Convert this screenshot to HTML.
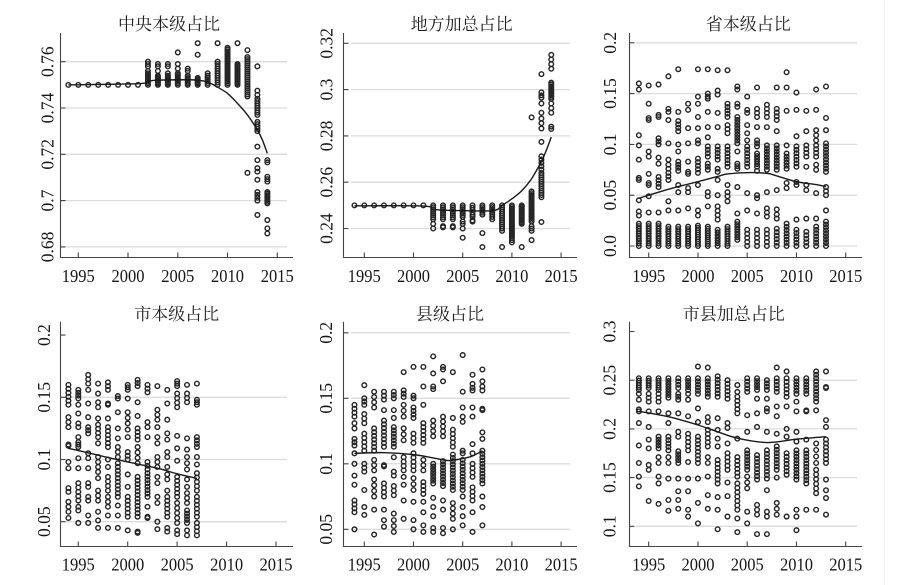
<!DOCTYPE html>
<html><head><meta charset="utf-8"><style>
html,body{margin:0;padding:0;background:#fff;}
svg{display:block;}
.n{font-family:"Liberation Serif","Noto Serif CJK SC",serif;font-size:17.5px;fill:#161616;}
.ttl{font-family:"Liberation Serif","Noto Serif CJK SC","Noto Serif CJK","Noto Serif CJK JP","Noto Sans CJK SC",serif;font-size:17px;fill:#1e1e1e;}
</style></head><body>
<svg id="s" width="908" height="585" viewBox="0 0 908 585" xmlns="http://www.w3.org/2000/svg">
<rect width="908" height="585" fill="#fff"/>
<line x1="884.5" y1="0" x2="884.5" y2="585" stroke="#f0f0f0" stroke-width="1"/>
<!-- grids -->
<g stroke="#dcdcdc" stroke-width="1.3">
<path d="M63 61.7H287M63 108H287M63 154.3H287M63 200.6H287M63 246.9H287"/>
<path d="M351 43.3H570M351 89.6H570M351 135.9H570M351 182.2H570M351 228.5H570"/>
<path d="M636 42.8H857M636 93.6H857M636 144.4H857M636 195.2H857M636 246H857"/>
<path d="M63 397.3H287M63 459.5H287M63 521.7H287"/>
<path d="M351 332.8H570M351 398.3H570M351 463.8H570M351 529.3H570"/>
<path d="M636 380.2H857M636 428.9H857M636 477.6H857M636 526.3H857"/>
</g>
<!-- axes -->
<g stroke="#444" stroke-width="1.1" fill="none">
<path d="M60.5 33V257.5H293"/>
<path d="M60.5 61.7h5M60.5 108h5M60.5 154.3h5M60.5 200.6h5M60.5 246.9h5"/>
<path d="M78.3 257.5v-5M128 257.5v-5M177.8 257.5v-5M227.5 257.5v-5M277.3 257.5v-5"/>
<path d="M343.5 33V257.5H577"/>
<path d="M343.5 43.3h5M343.5 89.6h5M343.5 135.9h5M343.5 182.2h5M343.5 228.5h5"/>
<path d="M364.3 257.5v-5M413.5 257.5v-5M462.7 257.5v-5M511.9 257.5v-5M561.1 257.5v-5"/>
<path d="M629.5 33V257.5H862"/>
<path d="M629.5 42.8h5M629.5 93.6h5M629.5 144.4h5M629.5 195.2h5M629.5 246h5"/>
<path d="M648.7 257.5v-5M698 257.5v-5M747.2 257.5v-5M796.5 257.5v-5M845.7 257.5v-5"/>
<path d="M60.5 321.7V546.5H293"/>
<path d="M60.5 335.1h5M60.5 397.3h5M60.5 459.5h5M60.5 521.7h5"/>
<path d="M78.3 546.5v-5M127.7 546.5v-5M177.1 546.5v-5M226.6 546.5v-5M276 546.5v-5"/>
<path d="M343.5 321.7V546.5H577"/>
<path d="M343.5 332.8h5M343.5 398.3h5M343.5 463.8h5M343.5 529.3h5"/>
<path d="M364.3 546.5v-5M413.5 546.5v-5M462.7 546.5v-5M511.9 546.5v-5M561.1 546.5v-5"/>
<path d="M629.5 321.7V546.5H862"/>
<path d="M629.5 331.5h5M629.5 380.2h5M629.5 428.9h5M629.5 477.6h5M629.5 526.3h5"/>
<path d="M648.7 546.5v-5M698 546.5v-5M747.2 546.5v-5M796.5 546.5v-5M845.7 546.5v-5"/>
</g>
<!-- titles -->
<text class="ttl" x="169" y="29.8" text-anchor="middle">中央本级占比</text>
<text class="ttl" x="461.7" y="29.8" text-anchor="middle">地方加总占比</text>
<text class="ttl" x="748.3" y="29.8" text-anchor="middle">省本级占比</text>
<text class="ttl" x="176.7" y="319.8" text-anchor="middle">市本级占比</text>
<text class="ttl" x="450" y="319.8" text-anchor="middle">县级占比</text>
<text class="ttl" x="733.8" y="319.8" text-anchor="middle">市县加总占比</text>
<!-- y labels -->
<g class="n" text-anchor="middle">
<text transform="translate(53.3,61.7) rotate(-90)">0.76</text>
<text transform="translate(53.3,108) rotate(-90)">0.74</text>
<text transform="translate(53.3,154.3) rotate(-90)">0.72</text>
<text transform="translate(53.3,200.6) rotate(-90)">0.7</text>
<text transform="translate(53.3,246.9) rotate(-90)">0.68</text>
<text transform="translate(332.5,43.3) rotate(-90)">0.32</text>
<text transform="translate(332.5,89.6) rotate(-90)">0.3</text>
<text transform="translate(332.5,135.9) rotate(-90)">0.28</text>
<text transform="translate(332.5,182.2) rotate(-90)">0.26</text>
<text transform="translate(332.5,228.5) rotate(-90)">0.24</text>
<text transform="translate(615.8,42.8) rotate(-90)">0.2</text>
<text transform="translate(615.8,93.6) rotate(-90)">0.15</text>
<text transform="translate(615.8,144.4) rotate(-90)">0.1</text>
<text transform="translate(615.8,195.2) rotate(-90)">0.05</text>
<text transform="translate(615.8,246) rotate(-90)">0.0</text>
<text transform="translate(49.8,335.1) rotate(-90)">0.2</text>
<text transform="translate(49.8,397.3) rotate(-90)">0.15</text>
<text transform="translate(49.8,459.5) rotate(-90)">0.1</text>
<text transform="translate(49.8,521.7) rotate(-90)">0.05</text>
<text transform="translate(331.8,332.8) rotate(-90)">0.2</text>
<text transform="translate(331.8,398.3) rotate(-90)">0.15</text>
<text transform="translate(331.8,463.8) rotate(-90)">0.1</text>
<text transform="translate(331.8,529.3) rotate(-90)">0.05</text>
<text transform="translate(615.5,331.5) rotate(-90)">0.3</text>
<text transform="translate(615.5,380.2) rotate(-90)">0.25</text>
<text transform="translate(615.5,428.9) rotate(-90)">0.2</text>
<text transform="translate(615.5,477.6) rotate(-90)">0.15</text>
<text transform="translate(615.5,526.3) rotate(-90)">0.1</text>
</g>
<!-- x labels -->
<g class="n" text-anchor="middle">
<text x="78.3" y="282" textLength="33" lengthAdjust="spacingAndGlyphs">1995</text>
<text x="128" y="282" textLength="33" lengthAdjust="spacingAndGlyphs">2000</text>
<text x="177.8" y="282" textLength="33" lengthAdjust="spacingAndGlyphs">2005</text>
<text x="227.5" y="282" textLength="33" lengthAdjust="spacingAndGlyphs">2010</text>
<text x="277.3" y="282" textLength="33" lengthAdjust="spacingAndGlyphs">2015</text>
<text x="364.3" y="282" textLength="33" lengthAdjust="spacingAndGlyphs">1995</text>
<text x="413.5" y="282" textLength="33" lengthAdjust="spacingAndGlyphs">2000</text>
<text x="462.7" y="282" textLength="33" lengthAdjust="spacingAndGlyphs">2005</text>
<text x="511.9" y="282" textLength="33" lengthAdjust="spacingAndGlyphs">2010</text>
<text x="561.1" y="282" textLength="33" lengthAdjust="spacingAndGlyphs">2015</text>
<text x="648.7" y="282" textLength="33" lengthAdjust="spacingAndGlyphs">1995</text>
<text x="698" y="282" textLength="33" lengthAdjust="spacingAndGlyphs">2000</text>
<text x="747.2" y="282" textLength="33" lengthAdjust="spacingAndGlyphs">2005</text>
<text x="796.5" y="282" textLength="33" lengthAdjust="spacingAndGlyphs">2010</text>
<text x="845.7" y="282" textLength="33" lengthAdjust="spacingAndGlyphs">2015</text>
<text x="78.3" y="570.7" textLength="33" lengthAdjust="spacingAndGlyphs">1995</text>
<text x="127.7" y="570.7" textLength="33" lengthAdjust="spacingAndGlyphs">2000</text>
<text x="177.1" y="570.7" textLength="33" lengthAdjust="spacingAndGlyphs">2005</text>
<text x="226.6" y="570.7" textLength="33" lengthAdjust="spacingAndGlyphs">2010</text>
<text x="276" y="570.7" textLength="33" lengthAdjust="spacingAndGlyphs">2015</text>
<text x="364.3" y="570.7" textLength="33" lengthAdjust="spacingAndGlyphs">1995</text>
<text x="413.5" y="570.7" textLength="33" lengthAdjust="spacingAndGlyphs">2000</text>
<text x="462.7" y="570.7" textLength="33" lengthAdjust="spacingAndGlyphs">2005</text>
<text x="511.9" y="570.7" textLength="33" lengthAdjust="spacingAndGlyphs">2010</text>
<text x="561.1" y="570.7" textLength="33" lengthAdjust="spacingAndGlyphs">2015</text>
<text x="648.7" y="570.7" textLength="33" lengthAdjust="spacingAndGlyphs">1995</text>
<text x="698" y="570.7" textLength="33" lengthAdjust="spacingAndGlyphs">2000</text>
<text x="747.2" y="570.7" textLength="33" lengthAdjust="spacingAndGlyphs">2005</text>
<text x="796.5" y="570.7" textLength="33" lengthAdjust="spacingAndGlyphs">2010</text>
<text x="845.7" y="570.7" textLength="33" lengthAdjust="spacingAndGlyphs">2015</text>
</g>
<g id="pts"></g>
</svg>
<script>
(function(){
const NS="http://www.w3.org/2000/svg";
const host=document.getElementById('pts');
const D=(lo,hi,n)=>{const a=[];for(let i=0;i<n;i++)a.push(n==1?lo:lo+(hi-lo)*i/(n-1));return a;};
function crPath(P){let d="M"+P[0][0].toFixed(2)+","+P[0][1].toFixed(2);
 for(let i=0;i<P.length-1;i++){const p0=P[i-1]||P[i],p1=P[i],p2=P[i+1],p3=P[i+2]||P[i+1];
  const a=p1[0]+(p2[0]-p0[0])/6,b=p1[1]+(p2[1]-p0[1])/6,c=p2[0]-(p3[0]-p1[0])/6,e=p2[1]-(p3[1]-p1[1])/6;
  d+=" C"+a.toFixed(2)+","+b.toFixed(2)+" "+c.toFixed(2)+","+e.toFixed(2)+" "+p2[0].toFixed(2)+","+p2[1].toFixed(2);}
 return d;}
function panel(xf,yf,cols,line){
 const g=document.createElementNS(NS,'g');
 g.setAttribute('fill','none');g.setAttribute('stroke','#262626');g.setAttribute('stroke-width','1.45');
 for(const k in cols){const yr=+k;const vals=cols[k].flat();
  for(const v of vals){const c=document.createElementNS(NS,'circle');
   c.setAttribute('cx',xf(yr).toFixed(2));c.setAttribute('cy',yf(v).toFixed(2));c.setAttribute('r','2.3');g.appendChild(c);}}
 host.appendChild(g);
 const p=document.createElementNS(NS,'path');
 p.setAttribute('d',crPath(line.map(q=>[xf(q[0]),yf(q[1])])));
 p.setAttribute('fill','none');p.setAttribute('stroke','#1a1a1a');p.setAttribute('stroke-width','1.4');
 host.appendChild(p);
}
// Panel 1
const c1={};for(let y=1994;y<=2001;y++)c1[y]=[.75];
Object.assign(c1,{
2002:[D(.750,.755,8),.756,.758,.759,.760],
2003:[D(.750,.754,8),.756,.758,.759],
2004:[D(.750,.754,8),.755,.758,.759],
2005:[D(.750,.755,8),.757,.759,.764],
2006:[D(.750,.754,7),.756,.757],
2007:[D(.750,.753,6),.763,.768],
2008:[D(.750,.754,6),.755],
2009:[.750,D(.751,.760,10),.768],
2010:[D(.750,.766,22)],
2011:[D(.750,.759,16),.768],
2012:[D(.745,.762,20),.765,.712],
2013:[.758,.7475,.7456,D(.737,.744,8),D(.730,.734,5),.7233,.7175,.714,.7125,.709,D(.700,.7037,4),.6938],
2014:[.7175,.7165,D(.7082,.7103,3),D(.6988,.7037,8),.6916,.688,.6858]});
panel(y=>78.3+(y-1995)*9.95,v=>61.7+(0.76-v)*2315,c1,
[[1994,.75],[2001,.7505],[2002,.7515],[2003,.752],[2006,.7522],[2007,.752],[2008,.7512],[2009,.749],[2010,.7463],[2011,.742],[2012,.737],[2013,.7305],[2013.5,.7262],[2014,.7204]]);
// Panel 2
const c2={};for(let y=1994;y<=2001;y++)c2[y]=[.25];
Object.assign(c2,{
2002:[D(.244,.25,8),.242,.240],
2003:[D(.244,.25,8),.241,.2405],
2004:[D(.244,.25,8),.241,.2405],
2005:[D(.245,.25,7),.243,.242,.240,.236],
2006:[D(.245,.25,6),.2435,.243],
2007:[D(.246,.25,6),.238,.232],
2008:[D(.246,.25,6),.245,.244],
2009:[D(.240,.25,12),.239,.232],
2010:[D(.236,.25,20),.235,.234],
2011:[D(.242,.25,14),.232],
2012:[D(.243,.256,18),.241,.240,.239,.235,.288],
2013:[.3067,.2988,.2975,.2965,.294,.290,.2875,.2855,.2832,.2774,D(.2655,.2712,5),D(.2535,.264,12),.2428],
2014:[.315,.313,.311,.309,D(.296,.303,10),.294,.292,.290,.284,.283]});
panel(y=>364.3+(y-1995)*9.84,v=>43.3+(0.32-v)*2315,c2,
[[1994,.2498],[2001,.2497],[2002,.2483],[2004,.2478],[2008,.2477],[2009,.2500],[2010,.2528],[2011,.2563],[2012,.2615],[2013,.2690],[2013.5,.2738],[2014,.2795]]);
// Panel 3
const c3={
1994:[.160,.154,.109,.099,.085,.067,.065,.045,.034,.030,D(0,.022,10)],
1995:[.158,.140,.126,.124,.093,.088,.071,.062,.060,.049,.033,D(0,.022,10)],
1996:[.159,.129,.127,.106,.103,.100,.087,.081,D(.058,.068,4),.033,D(0,.022,10)],
1997:[.167,.135,.132,.124,.101,.085,.080,.076,D(.065,.072,3),.044,.035,D(0,.019,9)],
1998:[.174,.132,D(.113,.123,4),.100,.093,D(.074,.083,4),.060,.053,.035,D(0,.019,9)],
1999:[.140,.134,.116,.101,.083,.073,.071,.057,.053,.037,D(0,.019,9)],
2000:[.174,.147,.140,.127,.116,.104,.101,D(.072,.086,5),.060,.035,.030,D(0,.02,10)],
2001:[.174,.150,.147,.145,.132,.117,.107,D(.088,.098,4),D(.075,.081,3),.053,.049,.039,D(0,.019,10)],
2002:[.173,.153,.149,.131,.117,D(.085,.098,5),.076,.073,.065,.050,D(.026,.039,4),D(0,.016,7)],
2003:[.173,D(.127,.140,5),D(.111,.119,3),D(.078,.098,7),.060,.053,.049,.044,D(0,.019,9)],
2004:[.157,.154,.140,.137,D(.101,.127,10),.093,D(.076,.081,3),.058,.032,D(.006,.024,8)],
2005:[.147,.134,.131,.119,.111,.104,D(.078,.098,7),.052,.035,D(0,.016,5)],
2006:[.156,.135,.131,.127,.117,D(.098,.104,3),D(.078,.091,6),.074,.050,.047,.032,D(0,.016,5)],
2007:[.139,.135,.131,.127,.117,D(.075,.099,9),.053,.037,.033,.029,D(0,.016,5)],
2008:[.156,D(.124,.135,4),.113,D(.075,.099,9),.055,.036,.031,.027,D(0,.017,6)],
2009:[.171,.156,.133,.099,D(.076,.091,6),.062,.057,D(0,.022,8)],
2010:[.151,.134,.108,D(.078,.098,7),.063,.060,.026,D(0,.016,6)],
2011:[.133,.113,D(.088,.099,4),.078,.060,.055,.027,D(0,.014,5)],
2012:[.154,.134,D(.104,.114,3),D(.088,.099,4),.080,.075,.052,.027,D(0,.019,7)],
2013:[.157,.126,.114,D(.073,.101,10),D(.050,.058,3),.035,D(0,.024,9)]};
panel(y=>648.7+(y-1995)*9.85,v=>246-v*1016,c3,
[[1994,.047],[1996,.053],[1998,.0585],[2000,.0633],[2002,.0685],[2003,.0709],[2005,.0722],[2007,.0715],[2008,.069],[2010,.0633],[2012,.0605],[2013,.0584]]);
// Panel 4
const c4={
1994:[D(.144,.160,6),.134,.130,.126,.112,.111,.098,.093,.077,.074,.066,.062,.058,.053],
1995:[D(.149,.156,4),.144,.137,.129,.126,.118,.114,.112,.110,.101,.093,D(.067,.081,5),.062,.059,.049],
1996:[D(.161,.168,3),.156,.145,.134,D(.121,.126,3),.105,.101,.093,.081,.078,.070,.067,.055,.049],
1997:[.161,.153,.146,.142,.133,D(.118,.128,4),.113,D(.090,.102,4),.085,D(.067,.075,3),.058,.051,.045],
1998:[D(.156,.162,3),.145,.144,.133,D(.110,.126,6),.100,.094,D(.075,.086,4),D(.062,.070,3),.055,.045],
1999:[.151,.149,.138,.125,.117,D(.102,.110,3),D(.070,.097,10),.063,.055,.045],
2000:[D(.156,.160,3),.149,D(.129,.138,3),.124,.118,D(.100,.106,3),.088,.078,D(.054,.070,6),.043],
2001:[D(.159,.164,3),.146,.135,D(.116,.125,4),D(.097,.110,4),D(.054,.086,12),.042,.041],
2002:[D(.154,.160,3),.130,.126,.118,D(.092,.098,3),D(.070,.089,8),.062,.054,.053],
2003:[.159,D(.132,.140,3),.126,.118,.113,D(.094,.102,3),.086,.081,.070,.065,.050,.044],
2004:[.156,.145,.132,.121,.116,.106,.102,.094,.088,.084,.075,D(.054,.070,6),.045,.042],
2005:[D(.159,.163,3),D(.142,.153,4),.119,.109,.099,D(.070,.086,6),D(.049,.065,5),.043,.040],
2006:[.160,D(.146,.153,3),.117,.108,.102,.097,.092,.084,.078,D(.065,.073,3),D(.049,.059,5),.043,.039],
2007:[.161,.148,.146,.144,D(.110,.118,4),.102,.096,D(.075,.089,5),D(.054,.070,6),D(.039,.049,4)]};
panel(y=>78.3+(y-1995)*9.885,v=>521.7-(v-0.05)*1244,c4,
[[1994,.109],[1997,.1035],[2000,.098],[2003,.093],[2005,.0885],[2007,.0848]]);
// Panel 5
const c5={
1994:[D(.136,.145,4),.131,.127,D(.114,.119,3),.108,.100,.091,.084,D(.063,.072,4),.050],
1995:[.160,D(.145,.150,3),D(.131,.138,3),D(.110,.123,5),D(.094,.100,3),.080,.067,.061],
1996:[D(.143,.155,4),D(.110,.127,7),D(.095,.103,3),D(.075,.088,4),.065,.046],
1997:[D(.149,.155,3),.141,D(.113,.133,8),.099,.098,D(.075,.085,4),.065,.057,.052],
1998:[D(.150,.155,3),.141,.135,D(.113,.128,7),.105,.094,.091,D(.076,.083,3),.062,D(.048,.057,3)],
1999:[.170,D(.151,.156,3),D(.136,.145,3),D(.118,.127,3),D(.095,.105,4),.090,.084,.072,.058],
2000:[.174,.152,.150,D(.135,.143,4),D(.116,.123,3),D(.095,.108,5),D(.080,.089,3),.071,.057,.050],
2001:[.174,.159,.145,D(.116,.131,6),D(.095,.103,3),D(.077,.086,4),.071,.063,.053,.048],
2002:[.182,.169,.159,.157,D(.121,.133,4),D(.085,.100,8),.074,.067,.060,.051,.048],
2003:[.174,.172,.163,D(.121,.136,5),D(.083,.102,9),.072,.065,.051,.047],
2004:[.170,.135,D(.113,.126,5),D(.080,.107,12),D(.058,.070,4),.050],
2005:[.183,.155,.143,.136,.132,.110,.108,D(.080,.103,10),.075,.067,.060,.053],
2006:[.168,.161,.158,.156,.143,.136,.115,.108,D(.090,.100,4),D(.072,.082,4),.063,.048],
2007:[.172,.163,.159,.156,.142,.141,.124,.119,D(.085,.110,11),.075,.067,.053]};
panel(y=>364.3+(y-1995)*9.84,v=>529.3-(v-0.05)*1310,c5,
[[1994,.108],[1997,.1085],[2000,.107],[2002,.1045],[2003.5,.1025],[2005,.104],[2006,.106],[2007,.110]]);
// Panel 6
const c6={
1994:[D(.240,.252,6),.236,.230,.220,.218,.206,.183,.165,.151,.141],
1995:[D(.242,.252,5),.236,.232,.228,.218,.202,.189,.180,.163,.158,.126],
1996:[D(.240,.252,6),.236,.232,.228,.218,D(.180,.192,5),.171,.165,.151,.144,.123],
1997:[D(.232,.252,8),.216,.206,D(.178,.192,5),.171,.165,.149,.127,.116],
1998:[D(.242,.252,4),.236,.233,.230,.216,.197,.192,D(.165,.177,5),.149,.136,.127,.118],
1999:[D(.240,.252,5),.236,.230,.213,D(.178,.195,5),.166,.149,.136,.117,.110],
2000:[.264,D(.236,.252,6),.221,.207,D(.165,.192,8),.149,.124,.103],
2001:[.263,D(.233,.252,7),.212,.207,D(.182,.199,5),.171,.165,.151,.132,.118],
2002:[D(.233,.254,7),.211,.199,.190,.182,D(.144,.168,7),.130,.117,.097],
2003:[D(.231,.250,6),.206,.201,.185,D(.158,.175,5),.145,.131,.110],
2004:[.245,.238,D(.216,.233,5),.190,D(.151,.171,6),D(.117,.144,7),.108,.094],
2005:[D(.238,.252,5),.214,.197,D(.158,.178,7),.151,.145,.139,.115,.103],
2006:[D(.240,.252,5),.231,.216,.202,D(.148,.173,8),.122,.117,.112,.092],
2007:[D(.240,.250,4),.231,.221,.218,.197,D(.149,.178,9),.137,.115,.110,.092],
2008:[.263,D(.238,.252,5),.223,.213,.195,D(.158,.182,8),.150,.124,.118,.112],
2009:[.259,D(.233,.252,6),.223,.200,.192,D(.153,.175,7),.110],
2010:[D(.236,.252,6),.228,.218,.197,.187,D(.148,.178,10),.117,.110,.096],
2011:[D(.236,.252,6),.219,.218,.189,D(.144,.178,11),.117],
2012:[D(.228,.259,10),.219,D(.165,.185,4),D(.134,.158,6),.117],
2013:[.259,.243,.242,.209,.202,D(.165,.189,7),.148,.137,.129,.112]};
panel(y=>648.7+(y-1995)*9.85,v=>526.3-(v-0.1)*974,c6,
[[1994,.218],[1997,.2125],[2000,.204],[2002,.197],[2004,.1905],[2007,.186],[2010,.1895],[2013,.192]]);
})();
</script>
</body></html>
